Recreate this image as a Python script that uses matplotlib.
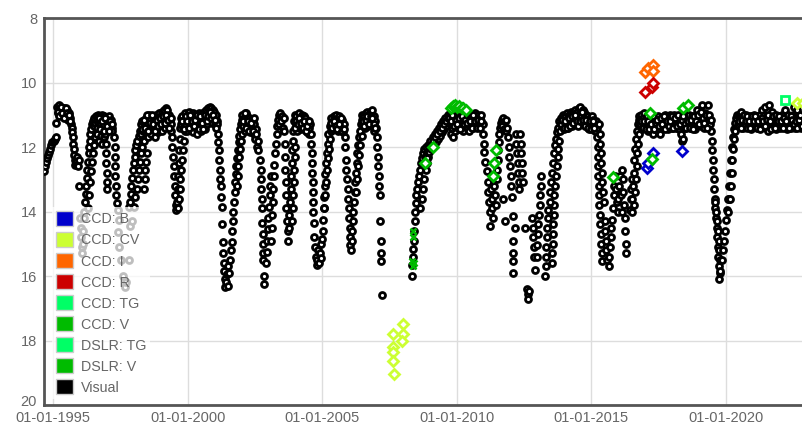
import matplotlib.pyplot as plt
import numpy as np
from matplotlib.patches import Patch
from matplotlib.ticker import FixedLocator
from matplotlib.transforms import ScaledTranslation

plt.rcParams['font.family'] = ['Liberation Sans', 'DejaVu Sans']

# visual estimates as (decimal year, magnitude), one list per season
visual_1995 = [
    (1994.66, 12.75), (1994.69, 12.6), (1994.72, 12.45), (1994.76, 12.35), (1994.80, 12.25),
    (1994.84, 12.15), (1994.88, 12.05), (1994.92, 11.95), (1994.97, 11.85), (1995.02, 11.8),
    (1995.07, 11.75), (1995.11, 11.7), (1995.11, 11.25),
    (1995.14, 10.75), (1995.17, 10.95), (1995.20, 10.7), (1995.23, 10.85), (1995.26, 11.0),
    (1995.29, 10.8), (1995.32, 10.9), (1995.35, 11.05), (1995.38, 10.85), (1995.41, 10.8),
    (1995.44, 11.0), (1995.47, 10.9), (1995.50, 10.85), (1995.53, 11.05), (1995.56, 11.15),
    (1995.59, 10.95), (1995.62, 11.1), (1995.65, 11.3),
    (1995.68, 11.4), (1995.70, 11.55), (1995.72, 11.7), (1995.74, 11.9), (1995.76, 12.05),
    (1995.78, 12.25), (1995.80, 12.4), (1995.82, 12.55), (1995.85, 12.45), (1995.88, 12.3),
    (1995.90, 12.55), (1995.93, 12.6), (1995.96, 12.4), (1995.97, 13.2),
    (1996.00, 14.2), (1996.02, 14.5), (1996.04, 14.8), (1996.06, 15.1), (1996.08, 15.3),
    (1996.10, 15.0), (1996.12, 14.6), (1996.14, 14.2),
]

visual_1996 = [
    (1996.15, 14.0), (1996.18, 13.7), (1996.20, 13.45), (1996.22, 13.2), (1996.25, 12.95),
    (1996.27, 12.7), (1996.29, 12.45), (1996.31, 12.2), (1996.34, 12.0), (1996.36, 11.8),
    (1996.38, 11.6), (1996.41, 11.45), (1996.44, 11.3), (1996.47, 11.2), (1996.50, 11.35),
    (1996.53, 11.1), (1996.56, 11.25), (1996.60, 11.05),
    (1996.28, 13.9), (1996.32, 13.5), (1996.36, 13.1), (1996.40, 12.75), (1996.44, 12.45),
    (1996.48, 12.2), (1996.52, 11.95), (1996.56, 11.7),
    (1996.62, 11.15), (1996.65, 11.0), (1996.68, 11.25), (1996.71, 11.05), (1996.74, 11.3),
    (1996.77, 11.1), (1996.80, 11.0), (1996.83, 11.2), (1996.86, 11.35), (1996.89, 11.05),
    (1996.92, 11.2), (1997.02, 11.1), (1997.05, 11.25), (1997.08, 11.05), (1997.11, 11.3),
    (1997.14, 11.15), (1997.17, 11.4), (1997.20, 11.5),
    (1996.64, 11.6), (1996.70, 11.8), (1996.76, 11.65), (1996.82, 11.9), (1996.88, 11.7),
    (1996.93, 11.6), (1996.95, 11.9), (1996.96, 12.2), (1996.97, 12.5), (1996.98, 12.8),
    (1996.99, 13.1), (1997.00, 13.3),
    (1997.26, 11.7), (1997.28, 12.0), (1997.29, 12.3), (1997.30, 12.6), (1997.31, 12.9),
    (1997.33, 13.2), (1997.35, 13.5), (1997.37, 13.75), (1997.39, 13.95),
    (1997.40, 14.65), (1997.45, 15.1), (1997.46, 14.25), (1997.50, 15.5), (1997.60, 16.0),
    (1997.68, 16.35), (1997.72, 16.2), (1997.80, 15.5), (1997.87, 14.45), (1997.92, 14.3),
]

visual_1998 = [
    (1997.80, 13.85), (1997.85, 13.7), (1997.88, 13.45), (1997.90, 13.2), (1997.93, 12.95),
    (1997.96, 12.7), (1997.99, 12.5), (1998.02, 12.3), (1998.05, 12.1), (1998.09, 11.95),
    (1998.13, 11.8), (1998.17, 11.65), (1998.21, 11.5),
    (1998.00, 13.85), (1998.05, 13.55), (1998.10, 13.3), (1998.14, 13.0), (1998.18, 12.7),
    (1998.22, 12.45), (1998.26, 12.2), (1998.30, 12.0),
    (1998.38, 13.3), (1998.40, 13.0), (1998.42, 12.7), (1998.44, 12.45), (1998.47, 12.2),
    (1998.25, 11.3), (1998.28, 11.6), (1998.31, 11.2), (1998.34, 11.5), (1998.37, 11.8),
    (1998.40, 11.3), (1998.43, 11.1), (1998.46, 11.55), (1998.49, 11.25), (1998.52, 11.7),
    (1998.55, 11.0), (1998.58, 11.4), (1998.61, 11.15), (1998.64, 11.6), (1998.67, 11.3),
    (1998.70, 11.05), (1998.73, 11.45), (1998.76, 11.2), (1998.79, 11.7), (1998.82, 11.0),
    (1998.85, 11.35), (1998.88, 11.1), (1998.91, 11.55), (1998.94, 10.95), (1998.97, 11.3),
    (1999.00, 11.05), (1999.03, 11.5), (1999.06, 10.9), (1999.09, 11.2), (1999.12, 10.85),
    (1999.15, 11.4), (1999.18, 10.8), (1999.21, 11.1), (1999.24, 10.85), (1999.27, 11.3),
    (1999.30, 11.0), (1999.33, 11.2), (1999.36, 11.5), (1999.39, 11.3),
    (1999.41, 11.7), (1999.43, 12.0), (1999.45, 12.3), (1999.47, 12.6), (1999.49, 12.9),
    (1999.51, 13.2), (1999.53, 13.5), (1999.55, 13.8), (1999.57, 13.95), (1999.60, 13.7),
    (1999.62, 13.3), (1999.64, 12.9), (1999.66, 12.5), (1999.68, 12.1), (1999.70, 11.75),
    (1999.72, 11.4), (1999.74, 11.1),
    (1999.62, 13.9), (1999.66, 13.6), (1999.70, 13.3), (1999.73, 13.0), (1999.76, 12.7),
    (1999.79, 12.4), (1999.82, 12.1), (1999.85, 11.8), (1999.88, 11.5),
]

visual_2000 = [
    (1999.76, 11.3), (1999.79, 11.05), (1999.82, 11.4), (1999.85, 11.15), (1999.88, 10.95),
    (1999.91, 11.35), (1999.94, 11.1), (1999.97, 11.5), (2000.00, 11.0), (2000.03, 11.25),
    (2000.06, 10.9), (2000.09, 11.45), (2000.12, 11.1), (2000.15, 11.3), (2000.18, 10.95),
    (2000.21, 11.55), (2000.24, 11.2), (2000.27, 11.0), (2000.30, 11.4), (2000.33, 11.1),
    (2000.36, 11.6), (2000.39, 11.25), (2000.42, 10.95), (2000.45, 11.35), (2000.48, 11.15),
    (2000.51, 11.5), (2000.54, 11.0), (2000.57, 11.3), (2000.60, 10.9), (2000.63, 11.45),
    (2000.66, 11.1), (2000.69, 10.85), (2000.72, 11.3), (2000.75, 10.8), (2000.78, 11.15),
    (2000.81, 10.75), (2000.84, 11.05), (2000.87, 10.8), (2000.90, 11.25), (2000.93, 10.85),
    (2000.96, 11.1), (2000.99, 10.9), (2001.02, 11.3), (2001.05, 11.0), (2001.08, 11.2),
    (2001.10, 11.3), (2001.12, 11.6), (2001.13, 11.85), (2001.15, 12.1), (2001.17, 12.4),
    (2001.19, 12.7), (2001.21, 13.0), (2001.23, 13.2), (2001.25, 13.55), (2001.27, 13.85),
    (2001.29, 14.4), (2001.30, 14.95), (2001.31, 15.3), (2001.33, 15.6), (2001.36, 15.85),
    (2001.38, 16.1), (2001.40, 16.35), (2001.43, 16.2), (2001.46, 15.95), (2001.48, 16.3),
    (2001.50, 15.7), (2001.53, 15.9), (2001.56, 15.5),
    (2001.60, 15.2), (2001.64, 14.95), (2001.66, 14.6), (2001.68, 14.3), (2001.70, 14.0),
    (2001.72, 13.7), (2001.74, 13.4),
    (2001.76, 13.1), (2001.78, 12.85), (2001.80, 12.6), (2001.83, 12.35), (2001.86, 12.1),
    (2001.89, 11.85), (2001.92, 11.65), (2001.95, 11.45), (2001.98, 11.3), (2002.01, 11.15),
    (2001.82, 13.2), (2001.85, 12.9), (2001.88, 12.6), (2001.91, 12.3), (2001.94, 12.05),
    (2001.97, 11.8), (2002.00, 11.6),
    (2002.03, 11.0), (2002.06, 11.35), (2002.09, 11.1), (2002.12, 11.5), (2002.15, 10.95),
    (2002.18, 11.25), (2002.21, 11.05), (2002.24, 11.4), (2002.27, 11.1), (2002.30, 11.3),
    (2002.33, 11.55), (2002.36, 11.15), (2002.39, 11.4), (2002.42, 11.2), (2002.45, 11.6),
    (2002.48, 11.3), (2002.51, 11.75), (2002.54, 11.45), (2002.57, 12.0), (2002.60, 11.8),
    (2002.62, 12.1),
]

visual_2003 = [
    (2002.70, 12.4), (2002.72, 12.7), (2002.73, 13.0), (2002.74, 13.3), (2002.75, 13.6),
    (2002.76, 13.9), (2002.77, 14.35), (2002.78, 14.7), (2002.79, 15.0), (2002.80, 15.3),
    (2002.81, 15.5), (2002.83, 16.0), (2002.85, 16.25),
    (2002.92, 15.6), (2002.94, 15.25), (2002.96, 14.9), (2002.98, 14.55), (2003.00, 14.2),
    (2003.02, 13.85), (2003.04, 13.5), (2003.06, 13.2), (2003.08, 12.9),
    (2003.10, 14.9), (2003.12, 14.5), (2003.14, 14.1), (2003.16, 13.7), (2003.18, 13.3),
    (2003.20, 12.9), (2003.22, 12.55), (2003.24, 12.2), (2003.27, 11.9), (2003.30, 11.6),
    (2003.33, 11.35), (2003.36, 11.15),
    (2003.38, 11.0), (2003.41, 11.3), (2003.44, 10.95), (2003.47, 11.2), (2003.50, 11.05),
    (2003.53, 11.4), (2003.56, 11.1),
    (2003.58, 11.5), (2003.60, 11.9), (2003.62, 12.3), (2003.63, 12.7), (2003.64, 13.1),
    (2003.66, 13.5), (2003.67, 13.9), (2003.69, 14.3), (2003.71, 14.6), (2003.73, 14.9),
    (2003.76, 14.5), (2003.78, 14.1), (2003.80, 13.7), (2003.82, 13.3), (2003.84, 12.9),
    (2003.86, 12.5), (2003.88, 12.1), (2003.90, 11.8), (2003.92, 11.5),
    (2003.88, 14.3), (2003.90, 13.9), (2003.92, 13.5), (2003.94, 13.1), (2003.96, 12.7),
    (2003.98, 12.3), (2004.00, 12.0),
    (2003.95, 11.2), (2003.98, 11.0), (2004.01, 11.35), (2004.04, 11.05), (2004.07, 11.5),
    (2004.10, 11.15), (2004.13, 10.95), (2004.16, 11.3), (2004.19, 11.1), (2004.22, 11.45),
    (2004.25, 11.0), (2004.28, 11.25), (2004.31, 11.05), (2004.34, 11.4), (2004.37, 11.1),
    (2004.40, 11.3), (2004.43, 11.55), (2004.46, 11.2), (2004.49, 11.4), (2004.52, 11.6),
    (2004.55, 11.3),
]

visual_2005 = [
    (2004.58, 11.6), (2004.60, 11.9), (2004.61, 12.2), (2004.62, 12.5), (2004.63, 12.8),
    (2004.64, 13.1), (2004.65, 13.4), (2004.66, 13.7), (2004.67, 14.0), (2004.68, 14.35),
    (2004.70, 14.8), (2004.73, 15.1), (2004.76, 15.4), (2004.79, 15.65), (2004.82, 15.5),
    (2004.85, 15.2), (2004.88, 15.6), (2004.91, 15.3), (2004.94, 15.0), (2004.97, 15.45),
    (2005.00, 14.85),
    (2005.02, 14.6), (2005.04, 14.25), (2005.06, 13.9), (2005.08, 13.55), (2005.10, 13.2),
    (2005.12, 12.85), (2005.14, 12.5), (2005.17, 12.2), (2005.20, 11.9), (2005.23, 11.6),
    (2005.05, 13.9), (2005.09, 13.5), (2005.13, 13.1), (2005.17, 12.7), (2005.21, 12.35),
    (2005.25, 12.05), (2005.29, 11.75), (2005.33, 11.5), (2005.37, 11.3),
    (2005.30, 11.35), (2005.33, 11.1), (2005.36, 11.45), (2005.39, 11.2), (2005.42, 11.05),
    (2005.45, 11.4), (2005.48, 11.15), (2005.51, 11.0), (2005.54, 11.3), (2005.57, 11.1),
    (2005.60, 11.5), (2005.63, 11.05), (2005.66, 11.25), (2005.69, 11.45), (2005.72, 11.15),
    (2005.75, 11.35), (2005.78, 11.55), (2005.81, 11.3),
    (2005.84, 11.7), (2005.86, 12.0), (2005.88, 12.4), (2005.90, 12.7), (2005.92, 13.0),
    (2005.94, 13.3), (2005.96, 13.6), (2005.98, 13.9), (2006.00, 14.2), (2006.02, 14.5),
    (2006.03, 14.8), (2006.05, 15.05), (2006.07, 15.2), (2006.10, 14.9), (2006.12, 14.6),
    (2006.14, 14.3), (2006.16, 14.0), (2006.18, 13.7), (2006.20, 13.4),
    (2006.22, 13.1), (2006.25, 12.8), (2006.28, 12.5), (2006.31, 12.2), (2006.34, 11.95),
    (2006.37, 11.7), (2006.40, 11.5), (2006.43, 11.3), (2006.46, 11.15),
    (2006.26, 13.4), (2006.30, 13.0), (2006.34, 12.6), (2006.38, 12.25), (2006.42, 11.95),
    (2006.46, 11.65),
    (2006.49, 11.0), (2006.52, 11.3), (2006.55, 11.05), (2006.58, 11.4), (2006.61, 10.95),
    (2006.64, 11.2), (2006.67, 10.9), (2006.70, 11.35), (2006.73, 11.0), (2006.76, 11.25),
    (2006.79, 10.9), (2006.82, 11.15), (2006.85, 10.85), (2006.88, 11.3), (2006.91, 11.05),
    (2006.94, 11.5), (2006.97, 11.2),
    (2007.00, 11.4), (2007.02, 11.7), (2007.04, 12.0), (2007.06, 12.3), (2007.08, 12.6),
    (2007.10, 12.9), (2007.12, 13.2), (2007.14, 13.5), (2007.16, 14.3), (2007.17, 14.9),
    (2007.18, 15.3), (2007.19, 15.55), (2007.22, 16.6),
]

visual_2009 = [
    (2008.33, 16.0), (2008.35, 15.65), (2008.36, 15.4), (2008.38, 15.15), (2008.40, 14.9),
    (2008.42, 14.6), (2008.44, 14.3),
    (2008.46, 14.0), (2008.48, 13.75), (2008.50, 13.5), (2008.53, 13.3), (2008.56, 13.1),
    (2008.59, 12.9), (2008.62, 12.7), (2008.66, 12.5), (2008.70, 12.35), (2008.74, 12.2),
    (2008.78, 12.05),
    (2008.65, 13.9), (2008.70, 13.6), (2008.75, 13.3), (2008.80, 13.0), (2008.85, 12.7),
    (2008.90, 12.5), (2008.95, 12.3),
    (2008.82, 12.3), (2008.86, 12.0), (2008.90, 12.2), (2008.94, 11.95), (2008.98, 12.15),
    (2009.02, 11.8), (2009.06, 12.05), (2009.10, 11.7), (2009.14, 11.95), (2009.18, 11.6),
    (2009.22, 11.85), (2009.26, 11.5), (2009.30, 11.75), (2009.34, 11.4), (2009.38, 11.65),
    (2009.42, 11.3), (2009.46, 11.55), (2009.50, 11.2), (2009.54, 11.45), (2009.58, 11.1),
    (2009.62, 11.35), (2009.66, 11.0), (2009.70, 11.25),
    (2009.78, 11.6), (2009.85, 11.7), (2009.92, 11.5),
    (2009.74, 10.95), (2009.77, 11.3), (2009.80, 11.05), (2009.83, 11.4), (2009.86, 10.9),
    (2009.89, 11.2), (2009.95, 11.0), (2009.98, 11.35), (2010.01, 10.9), (2010.04, 11.15),
    (2010.07, 11.45), (2010.10, 11.0), (2010.13, 11.3), (2010.16, 10.95), (2010.19, 11.2),
    (2010.22, 11.5), (2010.25, 11.05), (2010.28, 11.35), (2010.31, 10.95), (2010.34, 11.2),
    (2010.37, 11.4), (2010.40, 11.0), (2010.43, 11.3), (2010.46, 11.1), (2010.49, 11.45),
    (2010.52, 11.0), (2010.55, 11.25), (2010.58, 11.05), (2010.61, 11.4), (2010.64, 11.15),
    (2010.67, 10.95), (2010.70, 11.3), (2010.73, 11.05), (2010.76, 11.2), (2010.79, 11.0),
    (2010.82, 11.35), (2010.85, 11.1), (2010.88, 11.25), (2010.91, 11.0),
    (2010.96, 11.3), (2010.98, 11.6), (2011.00, 11.9), (2011.02, 12.15), (2011.04, 12.45),
    (2011.12, 12.75),
]

visual_2012 = [
    (2011.16, 13.1), (2011.18, 13.4), (2011.20, 13.7), (2011.22, 14.0), (2011.24, 14.45),
    (2011.28, 13.3), (2011.30, 13.6), (2011.33, 13.9), (2011.36, 14.2), (2011.40, 13.2),
    (2011.43, 13.5), (2011.46, 13.8),
    (2011.48, 13.0), (2011.50, 12.7), (2011.52, 12.4), (2011.54, 12.1), (2011.56, 11.85),
    (2011.58, 11.6), (2011.61, 11.4), (2011.64, 11.25), (2011.67, 11.15),
    (2011.70, 11.35), (2011.73, 11.1), (2011.76, 11.45), (2011.79, 11.2), (2011.82, 11.5),
    (2011.85, 11.15), (2011.88, 11.4),
    (2011.92, 11.7), (2011.94, 12.0), (2011.96, 12.3), (2011.98, 12.6), (2012.00, 12.9),
    (2012.02, 13.2), (2012.04, 13.55),
    (2012.20, 11.6), (2012.22, 11.9), (2012.24, 12.2), (2012.26, 12.5), (2012.28, 12.8),
    (2012.30, 13.1), (2012.32, 13.3),
    (2012.36, 11.6), (2012.38, 11.9), (2012.40, 12.2), (2012.42, 12.5), (2012.44, 12.8),
    (2012.46, 13.1),
    (2011.72, 13.6), (2011.80, 14.3), (2012.09, 14.15), (2012.16, 14.5), (2012.54, 14.5),
    (2012.09, 14.9), (2012.09, 15.3), (2012.09, 15.55), (2012.09, 15.9),
    (2012.63, 16.4), (2012.66, 16.55), (2012.64, 16.7), (2012.68, 16.45),
    (2012.80, 14.2), (2012.82, 14.5), (2012.84, 14.8), (2012.86, 15.1), (2012.88, 15.4),
    (2012.91, 15.8),
    (2012.98, 15.4), (2013.00, 15.05), (2013.02, 14.7), (2013.04, 14.4), (2013.06, 14.1),
    (2013.08, 13.8), (2013.10, 13.5), (2013.12, 13.2), (2013.14, 12.9),
    (2013.30, 16.0), (2013.31, 15.7), (2013.32, 15.4), (2013.33, 15.1), (2013.34, 14.8),
    (2013.36, 14.5), (2013.38, 14.2), (2013.40, 13.95),
    (2013.55, 15.6), (2013.56, 15.3), (2013.57, 15.0), (2013.58, 14.7), (2013.59, 14.4),
    (2013.60, 14.1), (2013.61, 13.8),
    (2013.45, 13.7), (2013.48, 13.4), (2013.51, 13.1), (2013.54, 12.8), (2013.58, 12.5),
    (2013.62, 12.2), (2013.66, 11.95), (2013.70, 11.75), (2013.74, 11.55), (2013.78, 11.4),
    (2013.63, 13.5), (2013.66, 13.2), (2013.69, 12.9), (2013.72, 12.6), (2013.75, 12.3),
    (2013.78, 12.05), (2013.82, 11.8),
    (2013.82, 11.2), (2013.85, 11.5), (2013.88, 11.1), (2013.91, 11.35), (2013.94, 11.0),
    (2013.97, 11.25), (2014.00, 11.45), (2014.03, 11.05), (2014.06, 11.3), (2014.09, 10.95),
    (2014.12, 11.2), (2014.15, 11.4), (2014.18, 11.0), (2014.21, 11.25), (2014.24, 10.9),
    (2014.27, 11.15), (2014.30, 11.35), (2014.33, 10.95), (2014.36, 11.2), (2014.39, 10.85),
    (2014.42, 11.1), (2014.45, 11.3), (2014.48, 10.9), (2014.51, 11.15), (2014.54, 10.8),
    (2014.57, 11.05), (2014.60, 10.75), (2014.63, 11.0), (2014.66, 11.25), (2014.69, 10.85),
    (2014.72, 11.1), (2014.75, 10.9), (2014.78, 11.2), (2014.81, 11.0), (2014.84, 11.3),
    (2014.87, 11.05), (2014.90, 11.2), (2014.93, 11.45), (2014.96, 11.1), (2014.99, 11.3),
    (2015.02, 11.05), (2015.05, 11.4), (2015.08, 11.15), (2015.11, 11.3), (2015.14, 11.5),
    (2015.17, 11.2),
]

visual_2016 = [
    (2015.20, 11.4), (2015.22, 11.7), (2015.24, 12.0), (2015.25, 12.3), (2015.26, 12.6),
    (2015.27, 12.9), (2015.28, 13.2), (2015.29, 13.5), (2015.30, 13.8), (2015.32, 14.1),
    (2015.34, 14.4), (2015.36, 14.7), (2015.38, 15.0), (2015.40, 15.3), (2015.42, 15.55),
    (2015.30, 11.3), (2015.32, 11.6), (2015.34, 11.9), (2015.36, 12.2), (2015.38, 12.5),
    (2015.40, 12.8), (2015.42, 13.1), (2015.44, 13.4), (2015.46, 13.7),
    (2015.50, 14.3), (2015.52, 14.6), (2015.54, 14.9), (2015.56, 15.2), (2015.58, 15.5),
    (2015.66, 15.7), (2015.68, 15.4), (2015.70, 15.1), (2015.72, 14.8), (2015.74, 14.5),
    (2015.76, 14.25),
    (2015.80, 13.9), (2015.83, 13.5), (2015.86, 13.2), (2015.89, 12.9), (2015.92, 13.3),
    (2015.95, 13.7), (2015.98, 14.0), (2016.01, 13.6), (2016.04, 13.2), (2016.07, 12.9),
    (2016.10, 13.5), (2016.13, 14.0), (2016.16, 12.7), (2016.18, 13.0), (2016.20, 13.4),
    (2016.22, 13.8), (2016.24, 14.2), (2016.26, 14.6), (2016.28, 15.0), (2016.30, 15.3),
    (2016.45, 13.95), (2016.47, 13.6), (2016.49, 13.3), (2016.51, 13.0),
    (2016.50, 14.0), (2016.52, 13.6), (2016.55, 13.2), (2016.58, 12.8), (2016.61, 12.4),
    (2016.64, 12.05), (2016.67, 11.75), (2016.70, 11.5), (2016.73, 11.3), (2016.76, 11.15),
    (2016.79, 11.05),
    (2016.60, 13.8), (2016.63, 13.4), (2016.66, 13.0), (2016.69, 12.6), (2016.72, 12.2),
    (2016.75, 11.9), (2016.78, 11.6),
]

visual_2018 = [
    (2016.82, 11.3), (2016.85, 11.0), (2016.88, 11.45), (2016.91, 11.1), (2016.94, 11.3),
    (2016.97, 10.95), (2017.00, 11.4), (2017.03, 11.15), (2017.06, 11.3), (2017.09, 11.05),
    (2017.12, 11.5), (2017.15, 11.2), (2017.18, 11.35), (2017.21, 11.05), (2017.24, 11.45),
    (2017.27, 11.2), (2017.30, 11.6), (2017.33, 11.3), (2017.36, 11.1), (2017.39, 11.45),
    (2017.42, 11.2), (2017.45, 11.35), (2017.48, 11.05), (2017.51, 11.5), (2017.54, 11.25),
    (2017.57, 11.6), (2017.60, 11.3), (2017.63, 11.1), (2017.66, 11.4), (2017.69, 11.2),
    (2017.72, 11.35), (2017.75, 11.0), (2017.78, 11.3), (2017.81, 11.15), (2017.84, 11.45),
    (2017.87, 11.1), (2017.90, 11.3), (2017.93, 11.0), (2017.96, 11.25), (2017.99, 11.4),
    (2018.02, 11.1), (2018.05, 11.3), (2018.08, 11.0), (2018.11, 11.2), (2018.14, 11.4),
    (2018.17, 11.05), (2018.20, 11.3), (2018.23, 11.15), (2018.26, 11.45), (2018.29, 11.2),
    (2018.32, 11.35), (2018.35, 11.6), (2018.38, 11.8), (2018.41, 11.75), (2018.44, 11.3),
    (2018.47, 11.1), (2018.50, 11.4), (2018.53, 11.0), (2018.56, 11.25), (2018.59, 11.1),
    (2018.62, 11.35), (2018.65, 11.0), (2018.68, 11.2), (2018.71, 11.4), (2018.74, 11.05),
    (2018.77, 11.3), (2018.80, 11.1), (2018.83, 11.25), (2018.86, 11.45), (2018.89, 11.1),
    (2018.92, 11.3), (2018.95, 10.85), (2018.98, 11.0), (2019.01, 11.0), (2019.04, 11.2),
    (2019.07, 11.35), (2019.10, 11.05), (2019.13, 10.7), (2019.16, 11.15), (2019.19, 11.4),
    (2019.22, 10.95), (2019.25, 11.1), (2019.28, 11.3), (2019.31, 11.05), (2019.34, 11.2),
    (2019.36, 10.7), (2019.40, 11.15), (2019.43, 11.3),
    (2019.46, 11.5), (2019.48, 11.8), (2019.50, 12.1), (2019.52, 12.4), (2019.54, 12.7),
    (2019.56, 13.0), (2019.58, 13.3), (2019.60, 13.6), (2019.62, 13.9), (2019.64, 14.2),
    (2019.66, 14.5), (2019.68, 14.8), (2019.70, 15.1), (2019.72, 15.4), (2019.74, 15.7),
    (2019.76, 16.1), (2019.78, 15.9), (2019.80, 15.85),
    (2019.62, 13.7), (2019.65, 14.0), (2019.68, 14.3), (2019.71, 14.6), (2019.74, 14.9),
    (2019.77, 15.2), (2019.80, 15.5),
    (2019.86, 15.5), (2019.90, 15.2), (2019.94, 14.9), (2019.98, 14.6), (2020.02, 14.25),
    (2020.06, 13.95), (2020.10, 13.6),
    (2020.08, 14.0), (2020.11, 13.6), (2020.14, 13.2), (2020.17, 12.8), (2020.20, 12.4),
    (2020.23, 12.0), (2020.26, 11.7), (2020.30, 11.45), (2020.34, 11.25), (2020.38, 11.1),
    (2020.42, 11.0),
    (2020.16, 13.6), (2020.19, 13.2), (2020.22, 12.8), (2020.25, 12.4), (2020.28, 12.05),
    (2020.31, 11.75), (2020.35, 11.5),
]

visual_2021 = [
    (2020.45, 11.3), (2020.48, 11.05), (2020.51, 11.35), (2020.54, 11.1), (2020.57, 10.9),
    (2020.60, 11.25), (2020.63, 11.05), (2020.66, 11.4), (2020.69, 11.15), (2020.72, 11.3),
    (2020.75, 11.0), (2020.78, 11.2), (2020.81, 11.4), (2020.84, 11.1), (2020.87, 11.3),
    (2020.90, 11.05), (2020.93, 11.25), (2020.96, 11.45), (2020.99, 11.15), (2021.02, 11.3),
    (2021.05, 11.0), (2021.08, 11.2), (2021.11, 11.35), (2021.14, 11.05), (2021.17, 11.25),
    (2021.20, 11.4), (2021.23, 11.1), (2021.26, 11.3), (2021.29, 11.0), (2021.32, 11.2),
    (2021.35, 10.85), (2021.38, 11.1), (2021.41, 11.3), (2021.44, 11.0), (2021.45, 10.75),
    (2021.47, 11.2), (2021.50, 11.4), (2021.53, 11.05), (2021.56, 11.25), (2021.59, 11.5),
    (2021.60, 10.7), (2021.62, 11.15), (2021.65, 11.3), (2021.68, 11.0), (2021.71, 10.9),
    (2021.74, 11.2), (2021.77, 11.35), (2021.80, 11.1), (2021.83, 11.25), (2021.86, 11.45),
    (2021.89, 11.15), (2021.92, 11.3), (2021.95, 11.05), (2021.98, 11.2), (2022.01, 11.4),
    (2022.04, 11.1), (2022.07, 11.3), (2022.10, 11.0), (2022.13, 11.2), (2022.16, 11.35),
    (2022.19, 10.85), (2022.22, 11.1), (2022.25, 11.3), (2022.28, 11.45), (2022.31, 11.15),
    (2022.34, 11.3), (2022.37, 11.05), (2022.40, 11.2), (2022.43, 11.4), (2022.46, 11.1),
    (2022.49, 11.3), (2022.52, 11.0), (2022.55, 10.75), (2022.58, 11.4), (2022.61, 11.1),
    (2022.64, 10.85), (2022.67, 11.25), (2022.70, 11.05), (2022.73, 11.3), (2022.76, 11.15),
    (2022.79, 11.4), (2022.82, 11.1), (2022.85, 11.25), (2022.88, 11.0),
]

# second observer pass over the bright plateaus
visual_plateaus = [
    (1995.16, 10.9), (1995.22, 11.05), (1995.28, 10.75), (1995.34, 10.95), (1995.40, 11.1),
    (1995.46, 10.8), (1995.52, 10.95), (1995.58, 11.0), (1995.64, 11.2),
    (1996.63, 11.4), (1996.69, 11.1), (1996.75, 11.45), (1996.81, 11.2), (1996.87, 11.5),
    (1996.93, 11.1), (1997.00, 11.35), (1997.06, 11.5), (1997.12, 11.2), (1997.18, 11.3),
    (1998.30, 11.45), (1998.36, 11.15), (1998.42, 11.4), (1998.48, 11.0), (1998.54, 11.5),
    (1998.60, 11.25), (1998.66, 11.0), (1998.72, 11.3), (1998.78, 11.5), (1998.84, 11.15),
    (1998.90, 11.35), (1998.96, 11.1), (1999.02, 11.3), (1999.08, 11.05), (1999.14, 11.25),
    (1999.20, 11.0), (1999.26, 11.15), (1999.32, 11.4), (1999.38, 11.1),
    (1999.80, 11.2), (1999.86, 11.45), (1999.92, 11.05), (1999.98, 11.2), (2000.04, 11.4),
    (2000.10, 11.0), (2000.16, 11.2), (2000.22, 11.35), (2000.28, 11.15), (2000.34, 11.0),
    (2000.40, 11.45), (2000.46, 11.05), (2000.52, 11.25), (2000.58, 11.45), (2000.64, 11.0),
    (2000.70, 11.2), (2000.76, 11.05), (2000.82, 10.9), (2000.88, 11.1), (2000.94, 11.0),
    (2001.00, 11.15), (2001.06, 11.4),
    (2002.05, 11.2), (2002.11, 10.95), (2002.17, 11.4), (2002.23, 11.2), (2002.29, 11.5),
    (2002.35, 11.25), (2002.41, 11.5), (2002.47, 11.1), (2002.53, 11.6),
    (2003.97, 11.4), (2004.03, 11.2), (2004.09, 11.3), (2004.15, 11.1), (2004.21, 11.25),
    (2004.27, 11.4), (2004.33, 11.2), (2004.39, 11.5), (2004.45, 11.35), (2004.51, 11.2),
    (2005.32, 11.25), (2005.38, 11.4), (2005.44, 11.2), (2005.50, 11.35), (2005.56, 11.45),
    (2005.62, 11.3), (2005.68, 11.1), (2005.74, 11.5), (2005.80, 11.45),
    (2006.50, 11.2), (2006.56, 11.35), (2006.62, 11.15), (2006.68, 11.05), (2006.74, 11.3),
    (2006.80, 11.05), (2006.86, 11.1), (2006.92, 11.3), (2006.98, 11.4),
    (2008.88, 12.35), (2008.96, 12.0), (2009.04, 11.95), (2009.12, 11.8), (2009.20, 11.7),
    (2009.28, 11.6), (2009.36, 11.5), (2009.44, 11.4), (2009.52, 11.3), (2009.60, 11.2),
    (2009.68, 11.1),
    (2009.72, 11.1), (2009.78, 11.2), (2009.84, 11.0), (2009.90, 11.35), (2009.96, 11.15),
    (2010.02, 11.3), (2010.08, 11.1), (2010.14, 11.45), (2010.20, 11.05), (2010.26, 11.3),
    (2010.32, 11.15), (2010.38, 11.25), (2010.44, 11.5), (2010.50, 11.2), (2010.56, 11.4),
    (2010.62, 11.0), (2010.68, 11.2), (2010.74, 11.4), (2010.80, 11.15), (2010.86, 11.4),
    (2010.92, 11.2),
    (2013.86, 11.3), (2013.92, 11.15), (2013.98, 11.4), (2014.04, 11.2), (2014.10, 11.4),
    (2014.16, 11.1), (2014.22, 11.35), (2014.28, 11.05), (2014.34, 11.25), (2014.40, 11.0),
    (2014.46, 11.2), (2014.52, 11.35), (2014.58, 11.2), (2014.64, 10.9), (2014.70, 11.15),
    (2014.76, 11.35), (2014.82, 11.15), (2014.88, 11.4), (2014.94, 11.2), (2015.00, 11.45),
    (2015.06, 11.2), (2015.12, 11.4),
    (2016.86, 11.2), (2016.92, 11.4), (2016.98, 11.2), (2017.04, 11.45), (2017.10, 11.2),
    (2017.16, 11.45), (2017.22, 11.3), (2017.28, 11.05), (2017.34, 11.45), (2017.40, 11.25),
    (2017.46, 11.15), (2017.52, 11.35), (2017.58, 11.1), (2017.64, 11.3), (2017.70, 11.05),
    (2017.76, 11.45), (2017.82, 11.2), (2017.88, 11.35), (2017.94, 11.2), (2018.00, 11.05),
    (2018.06, 11.4), (2018.12, 11.1), (2018.18, 11.35), (2018.24, 11.0), (2018.30, 11.3),
    (2018.36, 11.15), (2018.42, 11.05), (2018.48, 11.3), (2018.54, 11.4), (2018.60, 11.2),
    (2018.66, 11.4), (2018.72, 11.15), (2018.78, 11.45), (2018.84, 11.05), (2018.90, 11.2),
    (2018.96, 11.0), (2019.02, 11.3), (2019.08, 10.9), (2019.14, 11.1), (2019.20, 11.25),
    (2019.26, 11.0), (2019.32, 11.4), (2019.38, 11.0), (2019.44, 11.15),
    (2020.50, 11.2), (2020.56, 11.4), (2020.62, 11.15), (2020.68, 11.0), (2020.74, 11.2),
    (2020.80, 11.05), (2020.86, 11.2), (2020.92, 11.4), (2020.98, 11.05), (2021.04, 11.2),
    (2021.10, 11.05), (2021.16, 11.4), (2021.22, 11.2), (2021.28, 11.45), (2021.34, 11.1),
    (2021.40, 11.2), (2021.46, 11.35), (2021.52, 11.15), (2021.58, 11.0), (2021.64, 11.2),
    (2021.70, 11.45), (2021.76, 11.05), (2021.82, 11.4), (2021.88, 11.0), (2021.94, 11.2),
    (2022.00, 11.05), (2022.06, 11.2), (2022.12, 11.4), (2022.18, 11.1), (2022.24, 11.2),
    (2022.30, 11.0), (2022.36, 11.4), (2022.42, 11.05), (2022.48, 11.15), (2022.54, 11.3),
    (2022.60, 11.2), (2022.66, 11.4), (2022.72, 11.15), (2022.78, 11.0), (2022.84, 11.35),
]

ccd_b = [(2017.09, 12.64), (2017.12, 12.49), (2017.31, 12.18), (2018.39, 12.12)]
ccd_cv = [(2007.63, 17.8), (2007.62, 18.2), (2007.64, 18.35), (2007.62, 18.65),
          (2007.65, 19.05), (2007.99, 17.5), (2008.00, 17.8), (2007.98, 18.0),
          (2022.67, 10.63), (2022.86, 10.63)]
ccd_i = [(2017.01, 9.67), (2017.12, 9.55), (2017.31, 9.45), (2017.31, 9.64)]
ccd_r = [(2017.01, 10.29), (2017.27, 10.14), (2017.31, 10.01)]
ccd_tg = [(2022.19, 10.54)]
ccd_v = [(2008.82, 12.5), (2009.10, 12.0), (2009.80, 10.8), (2009.88, 10.72),
         (2009.95, 10.7), (2010.02, 10.75), (2010.10, 10.72), (2010.18, 10.78),
         (2010.25, 10.8), (2010.35, 10.85), (2011.36, 12.9), (2011.40, 12.5),
         (2011.45, 12.1), (2015.82, 12.92), (2017.27, 12.37), (2017.20, 10.94),
         (2018.43, 10.79), (2018.61, 10.69)]
dslr_v = [(2008.36, 14.6), (2008.38, 14.8), (2008.32, 15.55), (2008.36, 15.7), (2008.40, 15.6)]

legend_names = ['CCD: B', 'CCD: CV', 'CCD: I', 'CCD: R', 'CCD: TG', 'CCD: V',
                'DSLR: TG', 'DSLR: V', 'Visual']
legend_colors = ['#0000cc', '#ccff33', '#ff6600', '#cc0000', '#00ff66', '#00bb00',
                 '#00ff66', '#00bb00', '#000000']

year_ticks = [1995, 2000, 2005, 2010, 2015, 2020]
mag_ticks = [8, 10, 12, 14, 16, 18, 20]


def split(points):
    arr = np.array(points)
    return arr[:, 0], arr[:, 1]


visual = (visual_1995 + visual_1996 + visual_1998 + visual_2000 + visual_2003
          + visual_2005 + visual_2009 + visual_2012 + visual_2016 + visual_2018
          + visual_2021 + visual_plateaus)

fig = plt.figure(figsize=(8.03, 4.26), dpi=100)
ax = fig.add_axes([44 / 803, 21 / 426, 759 / 803, 387 / 426])

vx, vy = split(visual)
ax.plot(vx, vy, 'o', ms=4.3, mfc='white', mec='black', mew=2.0, zorder=3)

diamond_sets = [(ccd_b, '#0000cc'), (ccd_cv, '#ccff33'), (ccd_i, '#ff6600'),
                (ccd_r, '#cc0000'), (ccd_v, '#00bb00')]
for pts, col in diamond_sets:
    x, y = split(pts)
    ax.plot(x, y, 'D', ms=5.5, mfc='white', mec=col, mew=2, zorder=4)

x, y = split(ccd_tg)
ax.plot(x, y, 's', ms=5.5, mfc='white', mec='#00ff66', mew=2, zorder=4)
x, y = split(dslr_v)
ax.plot(x, y, 'x', ms=5, mec='#00bb00', mew=1.8, zorder=4)

ax.set_xlim(1994.655, 2022.875)
ax.set_ylim(20, 8)
ax.xaxis.set_major_locator(FixedLocator(year_ticks))
ax.set_xticklabels([f'01-01-{y}' for y in year_ticks])
ax.yaxis.set_major_locator(FixedLocator(mag_ticks))
ax.set_yticklabels([str(m) for m in mag_ticks])
ax.tick_params(length=0, labelsize=10.5, labelcolor='#666666')
ax.tick_params(axis='x', pad=4)
ax.tick_params(axis='y', pad=5)
ax.grid(True, color='#dddddd', lw=1)
ax.set_axisbelow(True)
for side in ['left', 'top', 'bottom']:
    ax.spines[side].set_color('#555555')
    ax.spines[side].set_linewidth(2)
ax.spines['right'].set_visible(False)

# lift the bottom magnitude label a little so it clears the first date label
low = ax.get_yticklabels()[-1]
low.set_transform(low.get_transform() + ScaledTranslation(0, 3 / 72, fig.dpi_scale_trans))

handles = [Patch(facecolor=c, edgecolor='#cccccc', lw=1) for c in legend_colors]
leg = ax.legend(handles, legend_names, loc='upper left',
                bbox_to_anchor=(52 / 803, 1 - 207 / 426), bbox_transform=fig.transFigure,
                fontsize=10.3, labelcolor='#666666', frameon=True, fancybox=False,
                handlelength=1.2, handleheight=1.2, handletextpad=0.5,
                labelspacing=0.41, borderpad=0.3, borderaxespad=0)
leg.get_frame().set_facecolor('white')
leg.get_frame().set_alpha(0.75)
leg.get_frame().set_edgecolor('none')
leg.set_zorder(10)

fig.savefig('out.png', dpi=100)
